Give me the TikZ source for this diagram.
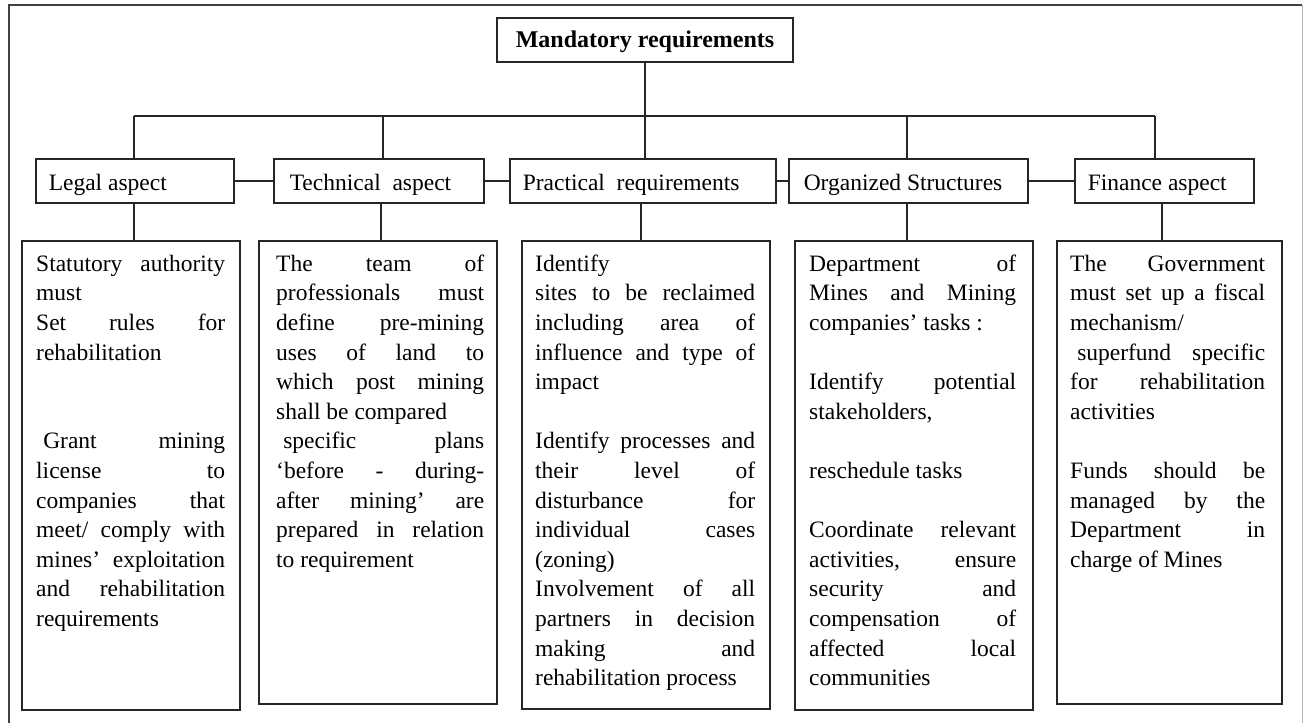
\documentclass[tikz,border=0pt]{standalone}
\usepackage{fontspec}
\setmainfont{Liberation Serif}
\setlength{\parindent}{0pt}
\newcommand{\J}[1]{{\spaceskip=\fontdimen2\font plus 1fil\relax\xspaceskip=\spaceskip\makebox[\hsize][s]{#1}}}
\newcommand{\ns}{\spaceskip=0pt\xspaceskip=0pt\relax}
\begin{document}
\begin{tikzpicture}[x=1pt,y=-1pt,
  lin/.style={line width=1.3pt, draw=black!85},
  boxst/.style={draw=black!85, line width=1.5pt, rectangle, inner sep=0pt},
  fnt/.style={font=\fontsize{23.5pt}{29.6pt}\selectfont},
  midbox/.style={boxst, fnt, anchor=west, minimum height=44pt, inner xsep=13pt, inner ysep=0pt, text height=20pt, text depth=2pt, align=left},
  bigbox/.style={boxst, anchor=north west},
  body/.style={fnt, anchor=north west, inner sep=0pt, align=left},
]
\useasboundingbox (0,0) rectangle (1304,723);
\fill[white] (0,0) rectangle (1304,723);
% outer frame
\draw[line width=1.3pt, black!75] (9,723) -- (9,5) -- (1302,5);
\draw[line width=1pt, black!30] (1302,5) -- (1302,723);

% top
\node[boxst, minimum width=296pt, minimum height=44pt, font=\bfseries\fontsize{24pt}{28pt}\selectfont, text height=17pt, text depth=3pt] (top) at (645,40) {Mandatory requirements};

% middle row
\node[midbox, text width=172pt] (m1) at (35,181) {\ns Legal aspect};
\node[midbox, text width=184pt] (m2) at (273,181) {\ns\hspace{3pt}Technical\ \ aspect};
\node[midbox, text width=240pt] (m3) at (509,181) {\ns Practical\ \ requirements};
\node[midbox, text width=213pt] (m4) at (788,181) {\ns\hspace{2pt}Organized Structures};
\node[midbox, text width=153pt] (m5) at (1074,181) {\ns Finance aspect};

% bottom row boxes
\node[bigbox, minimum width=218pt, minimum height=469pt] (b1) at (21,240) {};
\node[bigbox, minimum width=238pt, minimum height=463pt] (b2) at (258,240) {};
\node[bigbox, minimum width=248pt, minimum height=468pt] (b3) at (521,240) {};
\node[bigbox, minimum width=238pt, minimum height=469pt] (b4) at (794,240) {};
\node[bigbox, minimum width=225pt, minimum height=463pt] (b5) at (1056,240) {};

% texts
\node[body, text width=189pt] (t1) at (36,250.3) {\ns\strut\J{Statutory authority}\\
must\\
\J{Set rules for}\\
rehabilitation\\
\mbox{}\\
\mbox{}\\
\J{\hspace{0.3em}Grant mining}\\
\J{license to}\\
\J{companies that}\\
\J{meet/ comply with}\\
\J{mines’ exploitation}\\
\J{and rehabilitation}\\
requirements};

\node[body, text width=208pt] (t2) at (276,250.3) {\ns\strut\J{The team of}\\
\J{professionals must}\\
\J{define pre-mining}\\
\J{uses of land to}\\
\J{which post mining}\\
shall be compared\\
\J{\hspace{0.3em}specific plans}\\
\J{‘before - during-}\\
\J{after mining’ are}\\
\J{prepared in relation}\\
to requirement};

\node[body, text width=220pt] (t3) at (535,250.3) {\ns\strut Identify\\
\J{sites to be reclaimed}\\
\J{including area of}\\
\J{influence and type of}\\
impact\\
\mbox{}\\
\J{Identify processes and}\\
\J{their level of}\\
\J{disturbance for}\\
\J{individual cases}\\
(zoning)\\
\J{Involvement of all}\\
\J{partners in decision}\\
\J{making and}\\
rehabilitation process};

\node[body, text width=207pt] (t4) at (809,250.3) {\ns\strut\J{Department of}\\
\J{Mines and Mining}\\
companies’ tasks :\\
\mbox{}\\
\J{Identify potential}\\
stakeholders,\\
\mbox{}\\
reschedule tasks\\
\mbox{}\\
\J{Coordinate relevant}\\
\J{activities, ensure}\\
\J{security and}\\
\J{compensation of}\\
\J{affected local}\\
communities};

\node[body, text width=195pt] (t5) at (1070,250.3) {\ns\strut\J{The Government}\\
\J{must set up a fiscal}\\
mechanism/\\
\J{\hspace{0.3em}superfund specific}\\
\J{for rehabilitation}\\
activities\\
\mbox{}\\
\J{Funds should be}\\
\J{managed by the}\\
\J{Department in}\\
charge of Mines};

% connectors
\coordinate (busL) at (134,116);
\coordinate (busR) at (1155,116);
\coordinate (u1) at (134,116);
\coordinate (u2) at (383,116);
\coordinate (u3) at (645,116);
\coordinate (u4) at (907,116);
\coordinate (u5) at (1155,116);
\draw[lin] (top.south) -- (top.south |- busL);
\draw[lin] (busL) -- (busR);
\foreach \i in {1,...,5} {\draw[lin] (u\i) -- (u\i |- m\i.north);}

\coordinate (v1) at (134,0);
\coordinate (v2) at (381,0);
\coordinate (v3) at (641,0);
\coordinate (v4) at (907,0);
\coordinate (v5) at (1162,0);
\foreach \i in {1,...,5} {\draw[lin] (m\i.south -| v\i) -- (b\i.north -| v\i);}

\draw[lin] (m1.east) -- (m2.west);
\draw[lin] (m2.east) -- (m3.west);
\draw[lin] (m3.east) -- (m4.west);
\draw[lin] (m4.east) -- (m5.west);
\end{tikzpicture}
\end{document}
